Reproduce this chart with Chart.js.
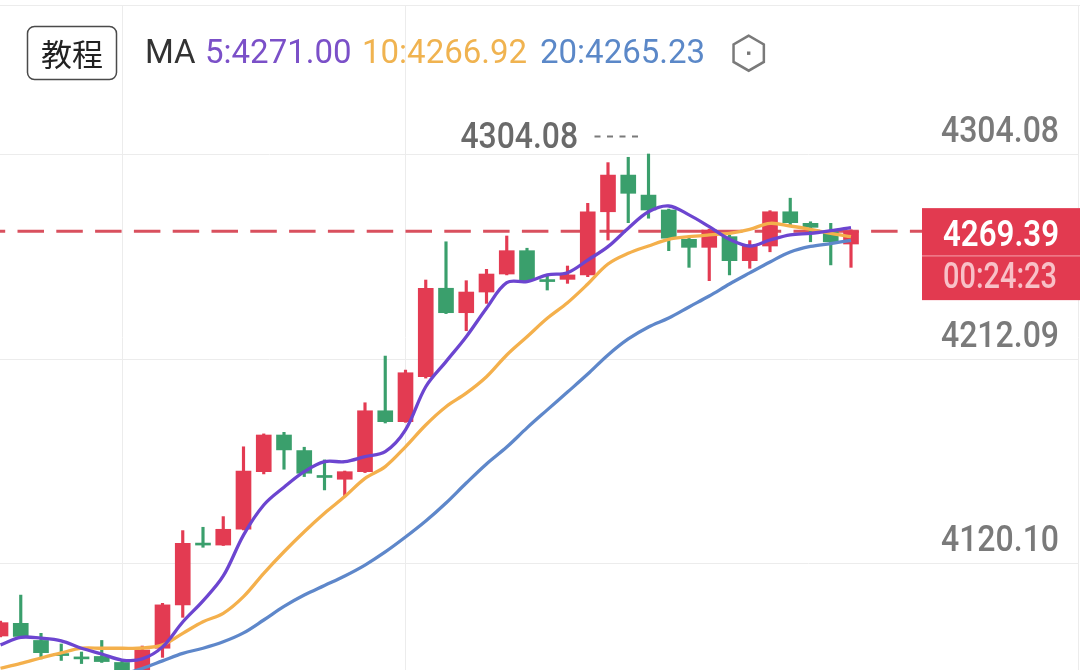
<!DOCTYPE html>
<html><head><meta charset="utf-8">
<script src="https://cdn.jsdelivr.net/npm/chart.js@4.4.1/dist/chart.umd.min.js"></script>
<style>
html,body{margin:0;padding:0;background:#fff;}
#wrap{position:relative;width:1080px;height:670px;overflow:hidden;background:#fff;}
canvas{display:block;}
</style></head><body>
<div id="wrap"><canvas id="c" width="1080" height="670"></canvas></div>
<script>
// ---- data ----
const opens  = [4087.3,4093.0,4085.3,4079.4,4077.9,4078.1,4075.4,4071.0,4081.8,4101.3,4128.9,4128.2,4135.3,4161.2,4177.7,4170.7,4159.5,4157.8,4161.2,4188.6,4183.7,4203.9,4243.7,4232.7,4242.0,4250.1,4260.6,4247.4,4247.7,4249.7,4278.1,4294.6,4285.6,4278.9,4265.7,4262.1,4266.9,4256.1,4262.7,4278.1,4272.9,4269.1,4263.6];
const highs  = [4094.0,4105.7,4088.5,4083.7,4080.1,4085.3,4076.1,4082.8,4102.0,4134.7,4136.2,4141.0,4172.4,4178.2,4178.9,4172.2,4166.5,4161.5,4192.2,4213.2,4206.9,4247.4,4264.6,4247.1,4252.2,4267.2,4261.7,4249.2,4253.7,4281.9,4300.2,4302.6,4304.08,4279.3,4266.3,4270.3,4267.5,4265.1,4278.6,4284.2,4273.6,4272.9,4270.0];
const lows   = [4086.9,4086.4,4077.0,4076.3,4074.9,4075.4,4068.4,4069.5,4077.7,4095.7,4127.2,4128.0,4135.0,4160.2,4162.3,4159.0,4153.0,4150.0,4160.8,4183.1,4183.4,4203.3,4232.3,4224.6,4236.9,4249.7,4246.7,4242.9,4245.9,4248.9,4265.4,4273.2,4275.2,4260.6,4253.1,4247.1,4249.7,4252.7,4260.1,4272.2,4264.6,4254.2,4253.1];
const closes = [4093.3,4087.1,4079.8,4078.5,4077.0,4075.8,4070.2,4081.0,4101.3,4129.0,4128.2,4135.3,4161.5,4177.7,4171.0,4160.5,4158.6,4161.2,4188.6,4183.7,4205.7,4243.7,4232.7,4242.0,4250.1,4260.6,4247.1,4246.7,4249.7,4278.1,4294.6,4286.4,4278.9,4266.2,4262.1,4269.9,4256.1,4262.7,4278.1,4273.2,4271.1,4264.6,4269.39];
const ma5  = [4083.3,4086.7,4086.3,4085.1,4081.8,4079.2,4076.5,4077.0,4082.4,4093.6,4103.1,4114.3,4132.7,4146.2,4154.2,4161.2,4165.7,4165.7,4168.0,4170.2,4180.0,4199.4,4210.7,4221.9,4234.7,4246.2,4246.7,4249.7,4250.7,4256.4,4262.4,4270.7,4278.1,4280.7,4276.7,4271.4,4265.7,4262.7,4265.4,4267.7,4268.4,4269.6,4271.00];
const ma10 = [4072.8,4075.0,4077.4,4079.7,4081.8,4081.8,4081.8,4081.9,4083.3,4088.5,4093.7,4097.5,4105.0,4115.5,4125.2,4134.2,4142.5,4150.0,4158.2,4163.5,4172.4,4182.2,4190.4,4196.5,4203.9,4213.7,4221.9,4230.2,4237.2,4245.6,4254.6,4259.4,4262.7,4265.7,4266.9,4267.7,4268.4,4270.2,4272.9,4271.7,4270.2,4268.4,4266.92];
const ma20 = [null,null,null,null,4066.2,4068.0,4070.0,4072.7,4076.1,4079.5,4081.8,4084.7,4088.7,4094.5,4100.6,4105.7,4110.0,4114.3,4119.2,4125.1,4131.8,4139.0,4147.1,4156.1,4164.7,4172.3,4180.9,4189.0,4197.0,4205.1,4213.7,4220.9,4226.3,4230.3,4235.3,4240.2,4245.6,4250.6,4255.5,4260.0,4262.5,4263.8,4265.23];
const yTickValues = [4304.08, 4212.09, 4120.10];
const yTickLabels = ['4304.08', '4212.09', '4120.10'];
const vGridCandles = [6, 20];
const lastPrice = 4269.39;
const lastPriceLabel = '4269.39';
const countdownLabel = '00:24:23';
const highLabel = '4304.08';
const maLegend = [
  {text: '5:4271.00',  color: '#7b50c8', x: 205},
  {text: '10:4266.92', color: '#f0b350', x: 362},
  {text: '20:4265.23', color: '#5b88c8', x: 540}
];

// ---- styles ----
const UP = '#e33b52', DOWN = '#3a9f6c';
const idx = closes.map((_, i) => i);
const candleColors = idx.map(i => closes[i] >= opens[i] ? UP : DOWN);
const bodyData = idx.map(i => ({x: i, y: [opens[i], closes[i]]}));
const wickData = idx.map(i => ({x: i, y: [lows[i], highs[i]]}));
const toLine = arr => idx.map(i => ({x: i, y: arr[i]}));

function fitText(ctx, txt, x, y, w, align, font, color) {
  ctx.save();
  ctx.font = font;
  ctx.fillStyle = color;
  ctx.textBaseline = 'alphabetic';
  ctx.textAlign = 'left';
  const m = ctx.measureText(txt).width;
  const s = w / m;
  const left = align === 'right' ? x - w : x;
  ctx.translate(left, y);
  ctx.scale(s, 1);
  ctx.fillText(txt, 0, 0);
  ctx.restore();
}
const NUMFONT = '500 37px Roboto, "DejaVu Sans", sans-serif';

const decor = {
  id: 'decor',
  beforeDatasetsDraw(chart) {
    const ctx = chart.ctx, xs = chart.scales.x, ys = chart.scales.y;
    ctx.save();
    ctx.strokeStyle = '#ececec';
    ctx.lineWidth = 1;
    ctx.beginPath(); ctx.moveTo(0, 5.5); ctx.lineTo(1080, 5.5); ctx.stroke();
    yTickValues.forEach(v => {
      const y = Math.round(ys.getPixelForValue(v)) + 0.5;
      ctx.beginPath(); ctx.moveTo(0, y); ctx.lineTo(1078, y); ctx.stroke();
    });
    vGridCandles.forEach(c => {
      const x = Math.round(xs.getPixelForValue(c)) + 0.5;
      ctx.beginPath(); ctx.moveTo(x, 5); ctx.lineTo(x, 670); ctx.stroke();
    });
    ctx.beginPath(); ctx.moveTo(1078.5, 5); ctx.lineTo(1078.5, 670); ctx.stroke();
    const py = ys.getPixelForValue(lastPrice);
    ctx.strokeStyle = '#d9505e';
    ctx.lineWidth = 3;
    ctx.setLineDash([26.5, 12.3]);
    ctx.lineDashOffset = 21.3;
    ctx.beginPath(); ctx.moveTo(0, py); ctx.lineTo(922, py); ctx.stroke();
    ctx.restore();
  },
  afterDatasetsDraw(chart) {
    const ctx = chart.ctx, xs = chart.scales.x, ys = chart.scales.y;
    yTickValues.forEach((v, k) => {
      const y = ys.getPixelForValue(v);
      fitText(ctx, yTickLabels[k], 1059, y - 12, 118, 'right', NUMFONT, '#7a7a7a');
    });
    const hi = highs.indexOf(Math.max(...highs));
    const hx = xs.getPixelForValue(hi);
    const hy = ys.getPixelForValue(highs[hi]);
    ctx.save();
    ctx.strokeStyle = '#7a7a7a';
    ctx.lineWidth = 2;
    ctx.setLineDash([6, 6.5]);
    ctx.beginPath(); ctx.moveTo(hx - 54, hy - 17.5); ctx.lineTo(hx - 6, hy - 17.5); ctx.stroke();
    ctx.restore();
    fitText(ctx, highLabel, hx - 188, hy - 5.7, 117.6, 'left', NUMFONT, '#6a6a6a');
    const py = ys.getPixelForValue(lastPrice);
    ctx.save();
    ctx.fillStyle = '#e23a50';
    ctx.fillRect(922, py - 23, 158, 92);
    ctx.fillStyle = '#f07f8e';
    ctx.fillRect(922, py + 24, 158, 1.5);
    ctx.restore();
    fitText(ctx, lastPriceLabel, 1059, py + 14.7, 116, 'right', '600 37px Roboto, "DejaVu Sans", sans-serif', '#ffffff');
    fitText(ctx, countdownLabel, 1057, py + 57, 114, 'right', NUMFONT, '#f8c0c7');
  },
  afterDraw(chart) {
    const ctx = chart.ctx;
    ctx.save();
    ctx.strokeStyle = '#4a4a4a';
    ctx.lineWidth = 1.5;
    ctx.beginPath();
    ctx.roundRect(27.5, 26.5, 89, 53, 7);
    ctx.stroke();
    ctx.fillStyle = '#222';
    ctx.font = '31px "Noto Sans CJK SC", sans-serif';
    ctx.textAlign = 'center';
    ctx.textBaseline = 'middle';
    ctx.fillText('教程', 72, 54);
    ctx.textAlign = 'left';
    ctx.textBaseline = 'alphabetic';
    ctx.font = '33px Roboto, sans-serif';
    ctx.fillStyle = '#333';
    ctx.fillText('MA', 145, 62.5);
    maLegend.forEach(m => { ctx.fillStyle = m.color; ctx.fillText(m.text, m.x, 62.5); });
    const cx = 748.7, cy = 53.2, r = 17.5;
    ctx.strokeStyle = '#7a7a7a';
    ctx.lineWidth = 2.5;
    ctx.beginPath();
    for (let k = 0; k < 6; k++) {
      const a = Math.PI / 2 + k * Math.PI / 3;
      const px = cx + r * Math.cos(a), py = cy - r * Math.sin(a);
      if (k === 0) ctx.moveTo(px, py); else ctx.lineTo(px, py);
    }
    ctx.closePath();
    ctx.stroke();
    ctx.fillStyle = '#777';
    ctx.fillRect(cx - 1.7, cy - 1.7, 3.4, 3.4);
    ctx.restore();
  }
};

new Chart(document.getElementById('c'), {
  type: 'bar',
  data: {
    datasets: [
      {type: 'line', data: toLine(ma5),  borderColor: '#6c45d0', borderWidth: 3.3, pointRadius: 0, tension: 0.35, fill: false, order: 0},
      {type: 'line', data: toLine(ma10), borderColor: '#f4b04c', borderWidth: 3.3, pointRadius: 0, tension: 0.35, fill: false, order: 0},
      {type: 'line', data: toLine(ma20), borderColor: '#5e87ca', borderWidth: 3.3, pointRadius: 0, tension: 0.35, fill: false, order: 0},
      {type: 'bar', data: bodyData, backgroundColor: candleColors, barThickness: 15, minBarLength: 2, grouped: false, borderWidth: 0, order: 1},
      {type: 'bar', data: wickData, backgroundColor: candleColors, barThickness: 2.5, grouped: false, borderWidth: 0, order: 2}
    ]
  },
  options: {
    responsive: false,
    animation: false,
    events: [],
    layout: {padding: 0},
    scales: {
      x: {type: 'linear', display: false, offset: false, min: -0.5 / 20.25, max: -0.5 / 20.25 + 1080 / 20.25},
      y: {type: 'linear', display: false, beginAtZero: false, min: 4072.01, max: 4373.34}
    },
    plugins: {legend: {display: false}, tooltip: {enabled: false}}
  },
  plugins: [decor]
});
</script>
</body></html>
